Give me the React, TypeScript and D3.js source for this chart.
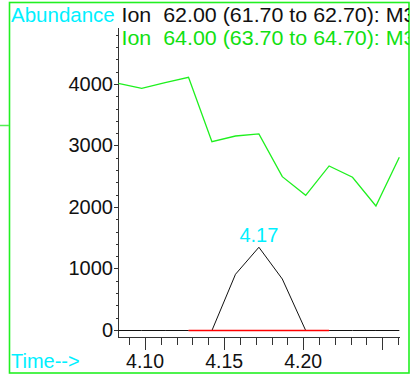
import { useEffect, useRef } from 'react';
import * as d3 from 'd3';

// scan times (min) and abundances
const scanTimes = [4.0831, 4.0979, 4.1127, 4.1275, 4.1423, 4.1572, 4.172, 4.1868, 4.2016, 4.2164, 4.2312, 4.246, 4.2608];
const ion62 = [0, 0, 0, 0, 0, 906, 1345, 829, 0, 0, 0, 0, 0];
const ion64 = [4011, 3930, 4020, 4109, 3062, 3154, 3187, 2493, 2190, 2667, 2483, 2016, 2808];
const baselineRange = [4.1275, 4.2164];
const peakTime = 4.172;
const peakLabel = '4.17';
const yTicks = [0, 1000, 2000, 3000, 4000];
const xTickLabels = [4.1, 4.15, 4.2];
const xLongTicks = [4.1, 4.15, 4.2, 4.25];
const headerLines = ['Ion  62.00 (61.70 to 62.70): M3', 'Ion  64.00 (63.70 to 64.70): M3'];

const W = 412;
const H = 377;
const FONT = '"Liberation Sans", Arial, sans-serif';

const App = () => {
  const svgRef = useRef<SVGSVGElement>(null);

  useEffect(() => {
    const svg = d3.select(svgRef.current);
    svg.selectAll('*').remove();

    const x = d3.scaleLinear().domain([4.0829, 4.2606]).range([118, 399]);
    const y = d3.scaleLinear().domain([-114, 4910]).range([337, 28]);
    const py = (v: number) => Math.round(y(v)) + 0.5;

    // clip for header text
    svg
      .append('defs')
      .append('clipPath')
      .attr('id', 'frameClip')
      .append('rect')
      .attr('x', 10)
      .attr('y', 0)
      .attr('width', 399)
      .attr('height', H);

    // outer frame
    svg
      .append('rect')
      .attr('x', 9.5)
      .attr('y', 2.5)
      .attr('width', 399.5)
      .attr('height', 370.5)
      .attr('fill', 'none')
      .attr('stroke', '#22f022')
      .attr('stroke-width', 1.6);
    svg
      .append('line')
      .attr('x1', 0)
      .attr('x2', 9)
      .attr('y1', 125.5)
      .attr('y2', 125.5)
      .attr('stroke', '#55ee55')
      .attr('stroke-width', 1.5);

    // y axis
    const axis = svg.append('g').attr('stroke', '#333').attr('shape-rendering', 'crispEdges');
    axis.append('line').attr('x1', 118.5).attr('x2', 118.5).attr('y1', 28).attr('y2', 337.5);
    axis
      .selectAll('.ymin')
      .data(d3.range(0, 4900, 200))
      .enter()
      .append('line')
      .attr('x1', 116)
      .attr('x2', 118)
      .attr('y1', (d) => py(d))
      .attr('y2', (d) => py(d));
    axis
      .selectAll('.ymaj')
      .data(yTicks)
      .enter()
      .append('line')
      .attr('x1', 114)
      .attr('x2', 118)
      .attr('y1', (d) => py(d))
      .attr('y2', (d) => py(d));

    svg
      .selectAll('.ylab')
      .data(yTicks)
      .enter()
      .append('text')
      .attr('x', 113)
      .attr('y', (d) => y(d) + 7)
      .attr('text-anchor', 'end')
      .attr('font-family', FONT)
      .attr('font-size', 20)
      .attr('fill', '#111')
      .text((d) => d);

    // x axis
    axis.append('line').attr('x1', 118).attr('x2', 400).attr('y1', 337.5).attr('y2', 337.5);
    const minor = d3.range(4.09, 4.2605, 0.01);
    axis
      .selectAll('.xmin')
      .data(minor)
      .enter()
      .append('line')
      .attr('x1', (d) => Math.round(x(d)) + 0.5)
      .attr('x2', (d) => Math.round(x(d)) + 0.5)
      .attr('y1', 337)
      .attr('y2', 345);
    axis
      .selectAll('.xmaj')
      .data(xLongTicks)
      .enter()
      .append('line')
      .attr('x1', (d) => Math.round(x(d)) + 0.5)
      .attr('x2', (d) => Math.round(x(d)) + 0.5)
      .attr('y1', 337)
      .attr('y2', 350);

    svg
      .selectAll('.xlab')
      .data(xTickLabels)
      .enter()
      .append('text')
      .attr('x', (d) => x(d))
      .attr('y', 368)
      .attr('text-anchor', 'middle')
      .attr('font-family', FONT)
      .attr('font-size', 19.5)
      .attr('fill', '#111')
      .text((d) => d.toFixed(2));

    // traces
    const line = d3
      .line<number>()
      .x((_, i) => x(scanTimes[i]))
      .y((d) => (d === 0 ? py(0) : y(d)));

    svg
      .append('path')
      .attr('d', line(ion64) as string)
      .attr('fill', 'none')
      .attr('stroke', '#1ef01e')
      .attr('stroke-width', 1.3);

    svg
      .append('path')
      .attr('d', line(ion62) as string)
      .attr('fill', 'none')
      .attr('stroke', '#111')
      .attr('stroke-width', 1);

    svg
      .append('line')
      .attr('x1', x(baselineRange[0]))
      .attr('x2', x(baselineRange[1]))
      .attr('y1', py(0))
      .attr('y2', py(0))
      .attr('stroke', '#ff0000')
      .attr('stroke-width', 1.3);

    // peak label
    svg
      .append('text')
      .attr('x', x(peakTime))
      .attr('y', 241.5)
      .attr('text-anchor', 'middle')
      .attr('font-family', FONT)
      .attr('font-size', 20)
      .attr('fill', '#00f0ff')
      .text(peakLabel);

    // header texts
    svg
      .append('text')
      .attr('x', 11)
      .attr('y', 22)
      .attr('font-family', FONT)
      .attr('font-size', 20.5)
      .attr('fill', '#00f0ff')
      .text('Abundance');

    const header = svg.append('g').attr('clip-path', 'url(#frameClip)');
    headerLines.forEach((t, i) => {
      header
        .append('text')
        .attr('x', 121.5)
        .attr('y', 22 + i * 23)
        .attr('font-family', FONT)
        .attr('font-size', 19.5)
        .attr('textLength', 294)
        .attr('lengthAdjust', 'spacingAndGlyphs')
        .style('white-space', 'pre')
        .attr('fill', i === 0 ? '#111' : '#11e011')
        .text(t);
    });

    svg
      .append('text')
      .attr('x', 11)
      .attr('y', 368)
      .attr('font-family', FONT)
      .attr('font-size', 20)
      .attr('fill', '#00f0ff')
      .text('Time-->');
  }, []);

  return (
    <svg
      ref={svgRef}
      width={W}
      height={H}
      style={{ position: 'absolute', left: 0, top: 0, background: '#fff' }}
    />
  );
};

export default App;
